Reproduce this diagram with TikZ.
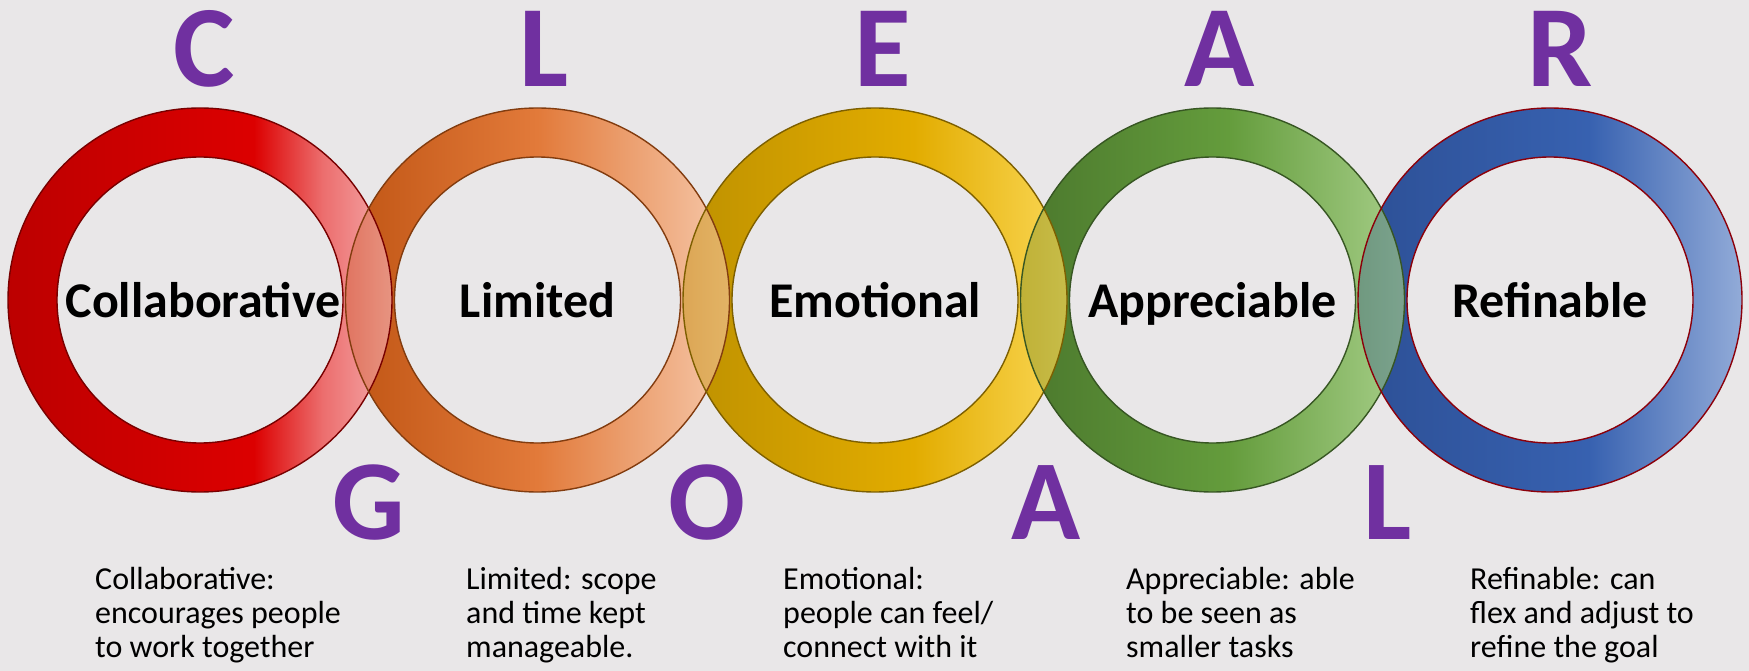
\documentclass[tikz,border=0pt]{standalone}
\usepackage{fontspec}
\setmainfont{Carlito}
\definecolor{bg}{RGB}{233,231,232}
\definecolor{lp}{RGB}{112,48,160}
% ring colours
\definecolor{ra}{RGB}{188,0,0}\definecolor{rb}{RGB}{220,0,0}\definecolor{rc}{RGB}{236,110,110}\definecolor{rd}{RGB}{245,172,172}
\definecolor{oa}{RGB}{192,85,20}\definecolor{ob}{RGB}{226,122,58}\definecolor{oc}{RGB}{246,200,170}
\definecolor{ya}{RGB}{190,145,0}\definecolor{yb}{RGB}{226,172,0}\definecolor{yc}{RGB}{250,215,85}
\definecolor{ga}{RGB}{75,120,45}\definecolor{gb}{RGB}{100,156,60}\definecolor{gc}{RGB}{166,206,136}
\definecolor{ba}{RGB}{45,80,150}\definecolor{bb}{RGB}{55,97,176}\definecolor{bc}{RGB}{146,171,216}
\definecolor{bd1}{RGB}{120,0,0}\definecolor{bd2}{RGB}{130,60,15}\definecolor{bd3}{RGB}{125,95,0}
\definecolor{bd4}{RGB}{55,86,35}\definecolor{bd5}{RGB}{140,0,10}
\pgfdeclarehorizontalshading{sh1}{100bp}{color(0bp)=(ra); color(25bp)=(ra); color(57bp)=(rb); color(66bp)=(rc); color(75bp)=(rd); color(100bp)=(rd)}
\pgfdeclarehorizontalshading{sh2}{100bp}{color(0bp)=(oa); color(25bp)=(oa); color(50bp)=(ob); color(75bp)=(oc); color(100bp)=(oc)}
\pgfdeclarehorizontalshading{sh3}{100bp}{color(0bp)=(ya); color(25bp)=(ya); color(55bp)=(yb); color(75bp)=(yc); color(100bp)=(yc)}
\pgfdeclarehorizontalshading{sh4}{100bp}{color(0bp)=(ga); color(25bp)=(ga); color(52bp)=(gb); color(75bp)=(gc); color(100bp)=(gc)}
\pgfdeclarehorizontalshading{sh5}{100bp}{color(0bp)=(ba); color(25bp)=(ba); color(55bp)=(bb); color(75bp)=(bc); color(100bp)=(bc)}
\begin{document}
\begin{tikzpicture}[x=1pt,y=1pt,
  ringlabel/.style={font=\bfseries\fontsize{50}{50}\selectfont, anchor=base, inner sep=0pt},
  bigtop/.style={font=\bfseries\fontsize{116}{116}\selectfont, text=lp, anchor=base, inner sep=0pt},
  bigbot/.style={font=\bfseries\fontsize{114}{114}\selectfont, text=lp, anchor=base, inner sep=0pt},
  desc/.style={font=\fontsize{32}{34}\selectfont, align=left, anchor=north west, inner sep=0pt},
  ringedge/.style={line width=1.4pt}]
\fill[bg] (0,0) rectangle (1749,-671);
\useasboundingbox (0,0) rectangle (1749,-671);
\foreach \i/\x in {1/200,2/537.5,3/875,4/1212.5,5/1550}
  \coordinate (c\i) at (\x,-300);
% rings
\foreach \i in {1,...,5}
  \shade[shading=sh\i, even odd rule] (c\i) circle (192pt) (c\i) circle (143pt);
% overlaps
\foreach \i/\j/\op in {1/2/0.7,2/3/0.6,3/4/0.7,4/5/0.65}{
  \begin{scope}[even odd rule]
    \clip (c\j) circle (192pt) (c\j) circle (143pt);
    \shade[shading=sh\i, opacity=\op] (c\i) circle (192pt) (c\i) circle (143pt);
  \end{scope}
}
% edges
\foreach \i in {1,...,5}
  \draw[ringedge, draw=bd\i] (c\i) circle (192pt) (c\i) circle (143pt);
% ring labels
\node[ringlabel] (l1) at (203,-317) {Collaborative};
\node[ringlabel] (l2) at (537.5,-317) {Limited};
\node[ringlabel] (l3) at (875,-317) {Emotional};
\node[ringlabel] (l4) at (1212.5,-317) {Appreciable};
\node[ringlabel] (l5) at (1550,-317) {Refinable};
% top letters
\node[bigtop] (t1) at (204,-87) {C};
\node[bigtop] (t2) at (544,-87) {L};
\node[bigtop] (t3) at (883,-87) {E};
\node[bigtop] (t4) at (1220,-87) {A};
\node[bigtop] (t5) at (1560,-87) {R};
% bottom letters
\node[bigbot] (b1) at (369,-539) {G};
\node[bigbot] (b2) at (707,-539) {O};
\node[bigbot] (b3) at (1046,-539) {A};
\node[bigbot] (b4) at (1388,-539) {L};
% descriptions
\node[desc] (d1) at (95,-565) {\rule{0pt}{24pt}Collaborative:\\encourages people\\to work together};
\node[desc] (d2) at (466,-565) {\rule{0pt}{24pt}Limited: scope\\and time kept\\manageable.};
\node[desc] (d3) at (783,-565) {\rule{0pt}{24pt}Emotional:\\people can feel/\\connect with it};
\node[desc] (d4) at (1126,-565) {\rule{0pt}{24pt}Appreciable: able\\to be seen as\\smaller tasks};
\node[desc] (d5) at (1470,-565) {\rule{0pt}{24pt}Refinable: can\\flex and adjust to\\refine the goal};
\end{tikzpicture}
\end{document}
